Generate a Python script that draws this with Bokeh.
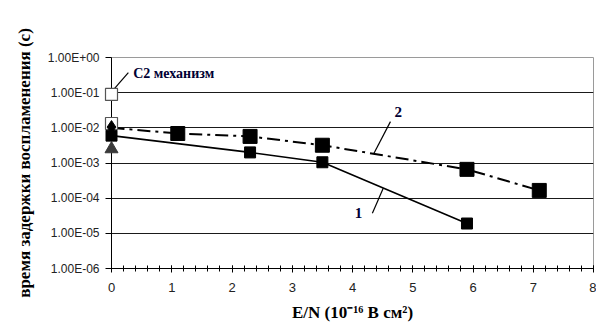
from bokeh.plotting import figure
from bokeh.models import (Range1d, FixedTicker, SingleIntervalTicker, CustomJSTickFormatter,
                          Label, Arrow)
from bokeh.embed import file_html
from bokeh.resources import INLINE

# ---- data ----
s1_x = [0.0, 2.3, 3.5, 5.9]
s1_y = [6.0e-3, 2.0e-3, 1.05e-3, 1.9e-5]

s2_line_x = [0.0, 1.1, 2.3, 3.5, 5.9, 7.1]
s2_line_y = [1.0e-2, 6.9e-3, 5.7e-3, 3.2e-3, 6.6e-4, 1.66e-4]
s2_x = [1.1, 2.3, 3.5, 5.9, 7.1]
s2_y = [6.9e-3, 5.7e-3, 3.2e-3, 6.6e-4, 1.66e-4]

diamond_x = [0.0]
diamond_y = [1.05e-2]
open_sq_x = [0.0, 0.0]
open_sq_y = [8.9e-2, 1.33e-2]
triangle_x = [0.0]
triangle_y = [2.5e-3]

y_ticks = [1e-6, 1e-5, 1e-4, 1e-3, 1e-2, 1e-1, 1e0]
y_tick_labels = ["1.00E-06", "1.00E-05", "1.00E-04", "1.00E-03", "1.00E-02", "1.00E-01", "1.00E+00"]
grid_ticks = [1e-5, 1e-4, 1e-3, 1e-2, 1e-1]

x_title = "E/N (10\u207b\u00b9\u2076 В см\u00b2)"
y_title = "время задержки воспламенения (с)"

W, H = 596, 325
FL, FR, FT, FB = 111, 3, 57, 57   # frame borders

p = figure(width=W, height=H, output_backend="svg", toolbar_location=None,
           x_range=Range1d(0, 8), y_range=Range1d(1e-6, 1), y_axis_type="log",
           min_border_left=FL, min_border_right=FR, min_border_top=FT, min_border_bottom=FB)
p.background_fill_color = "white"
p.border_fill_color = "white"
p.outline_line_color = "#9a9a9a"
p.outline_line_width = 1

# grid
p.xgrid.visible = False
p.ygrid.ticker = FixedTicker(ticks=grid_ticks)
p.ygrid.grid_line_color = "#1a1a1a"
p.ygrid.grid_line_width = 1
p.ygrid.minor_grid_line_color = None

# y axis
yax = p.yaxis[0]
yax.ticker = FixedTicker(ticks=y_ticks)
yax.formatter = CustomJSTickFormatter(args=dict(tvals=y_ticks, tlabels=y_tick_labels), code="""
    let best = 0, bd = 1e9;
    for (let i = 0; i < tvals.length; i++) {
        const d = Math.abs(Math.log10(tvals[i]) - Math.log10(tick));
        if (d < bd) { bd = d; best = i; }
    }
    return tlabels[best];
""")
yax.axis_line_color = "black"
yax.major_tick_line_color = "black"
yax.major_tick_out = 6
yax.major_tick_in = 0
yax.minor_tick_line_color = None
yax.major_label_text_font = "Liberation Sans"
yax.major_label_text_font_size = "12px"
yax.major_label_text_color = "#222222"
yax.major_label_standoff = 6
yax.axis_label = y_title
yax.axis_label_text_font = "Liberation Serif"
yax.axis_label_text_font_style = "bold"
yax.axis_label_text_font_size = "17px"
yax.axis_label_text_color = "black"
yax.axis_label_standoff = 11

# x axis
xax = p.xaxis[0]
xax.ticker = SingleIntervalTicker(interval=1, num_minor_ticks=5)
xax.axis_line_color = "black"
xax.major_tick_line_color = "black"
xax.major_tick_out = 4
xax.major_tick_in = 3
xax.minor_tick_line_color = "black"
xax.minor_tick_out = 3
xax.minor_tick_in = 3
xax.major_label_text_font = "Liberation Sans"
xax.major_label_text_font_size = "13px"
xax.major_label_text_color = "#222222"
xax.major_label_standoff = 10
xax.axis_label = x_title
xax.axis_label_text_font = "Liberation Serif"
xax.axis_label_text_font_style = "bold"
xax.axis_label_text_font_size = "17px"
xax.axis_label_text_color = "black"
xax.axis_label_standoff = 8

# series lines
p.line(s1_x, s1_y, line_color="black", line_width=1.6)
p.line(s2_line_x, s2_line_y, line_color="black", line_width=2, line_dash="13 5 3 5")

# markers (overlay level so markers on the axis are not clipped)
p.scatter(s1_x, s1_y, marker="square", size=11, fill_color="black", line_color="black", level="overlay")
p.scatter(s2_x, s2_y, marker="square", size=14, fill_color="black", line_color="black", level="overlay")
p.scatter(open_sq_x, open_sq_y, marker="square", size=12, fill_color="white", line_color="#555555",
          line_width=1.2, level="overlay")
p.scatter(triangle_x, triangle_y, marker="triangle", size=13, fill_color="#3a3a3a", line_color="#3a3a3a",
          level="overlay")
p.scatter(diamond_x, diamond_y, marker="diamond", size=13, fill_color="black", line_color="black",
          level="overlay")

# leader lines
for (x0, y0, x1, y1) in [(0.03, 0.12, 0.28, 0.37),
                         (4.35, 1.8e-3, 4.63, 1.5e-2),
                         (4.33, 3.7e-5, 4.51, 1.9e-4)]:
    p.add_layout(Arrow(end=None, x_start=x0, y_start=y0, x_end=x1, y_end=y1,
                       line_color="black", line_width=1.2))

# annotation texts
p.add_layout(Label(x=0.36, y=0.35, text="С2 механизм", text_font="Liberation Serif",
                   text_font_style="bold", text_font_size="14px", text_color="#000033",
                   text_baseline="middle", text_align="left"))
p.add_layout(Label(x=4.76, y=0.0275, text="2", text_font="Liberation Serif",
                   text_font_style="bold", text_font_size="15px", text_color="#000033",
                   text_baseline="middle", text_align="center"))
p.add_layout(Label(x=4.10, y=3.7e-5, text="1", text_font="Liberation Serif",
                   text_font_style="bold", text_font_size="15px", text_color="#000033",
                   text_baseline="middle", text_align="center"))

open("out.html", "w").write(file_html(p, INLINE))
